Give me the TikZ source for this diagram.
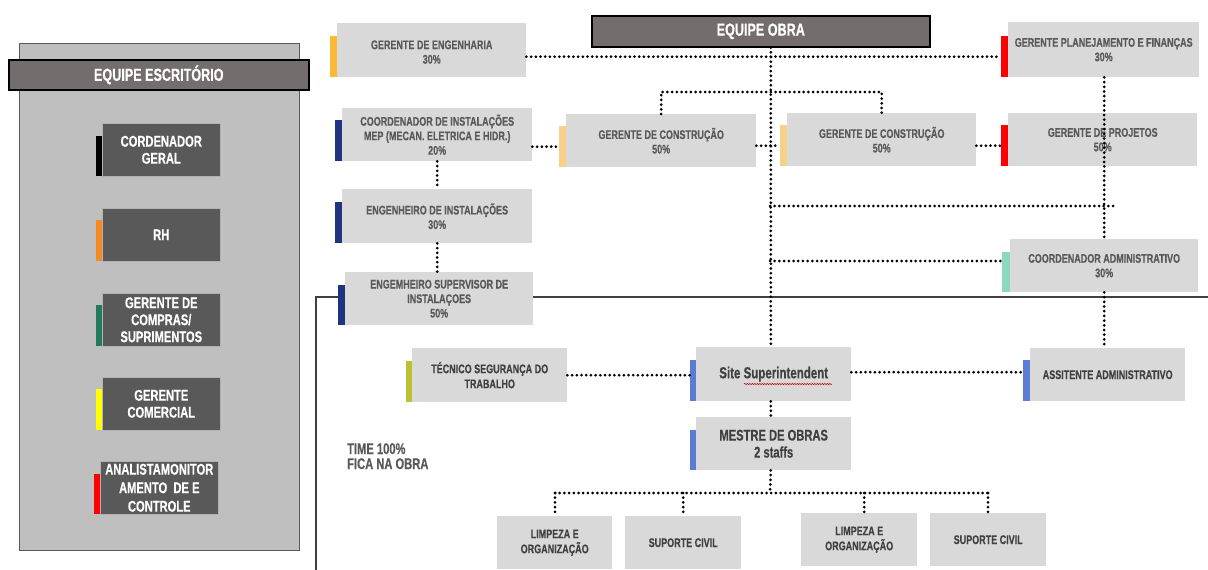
\documentclass[tikz,border=0pt]{standalone}
\usepackage{fontspec}
\setmainfont{Liberation Sans}[FakeStretch=0.72, BoldFeatures={FakeBold=0.4}]
\usetikzlibrary{decorations.pathmorphing}
\definecolor{hdr}{HTML}{736E6D}
\definecolor{panel}{HTML}{BFBFBF}
\definecolor{dbox}{HTML}{595959}
\definecolor{lbox}{HTML}{D9D9D9}
\definecolor{txt}{HTML}{595959}
\definecolor{txtd}{HTML}{404040}
\definecolor{cOrange}{HTML}{F38A24}
\definecolor{cTeal}{HTML}{217A5A}
\definecolor{cYellow}{HTML}{FFFF00}
\definecolor{cRed}{HTML}{FF0000}
\definecolor{cGold}{HTML}{FBBA34}
\definecolor{cNavy}{HTML}{1F3480}
\definecolor{cPeach}{HTML}{F7D08A}
\definecolor{cMint}{HTML}{8ED9BE}
\definecolor{cOlive}{HTML}{BBC232}
\definecolor{cBlue}{HTML}{5B7BD5}
\begin{document}
\begin{tikzpicture}[x=1pt,y=-1pt,
  hdrbox/.style={draw=black, line width=1.6pt, fill=hdr, text=white, font=\bfseries\fontsize{17.5}{19}\selectfont, anchor=north west, inner sep=0pt},
  dk/.style={fill=dbox, draw=gray!60, line width=0.6pt, text=white, font=\bfseries\fontsize{15.5}{17}\selectfont, align=center, anchor=north west, minimum width=118pt, minimum height=53pt, inner sep=0pt},
  lt/.style={fill=lbox, text=txt, font=\bfseries\fontsize{12.5}{14.5}\selectfont, align=center, anchor=north west, inner sep=0pt},
  sm/.style={lt, text=txtd, font=\bfseries\fontsize{12.5}{15}\selectfont},
  big/.style={lt, text=txtd, font=\bfseries\fontsize{16}{17}\selectfont},
  strip/.style={anchor=south east, minimum width=7pt, minimum height=41pt, inner sep=0pt},
  dots/.style={line width=3pt, dash pattern=on 0pt off 4.7pt, line cap=round, black},
  solidln/.style={line width=1.2pt, draw=txtd}
]
\useasboundingbox (0,0) rectangle (1208,570);

% ---------- left panel ----------
\draw[fill=panel, draw=dbox, line width=1pt] (19,43) rectangle (299,550);
\node[hdrbox, minimum width=300pt, minimum height=30pt] (esc) at (8,59) {EQUIPE ESCRITÓRIO};

\node[dk] (cg) at (102,123) {CORDENADOR\\GERAL};
\node[strip, minimum width=6pt, minimum height=40pt, fill=black] (cgS) at (cg.south west) {};
\node[dk] (rh) at (102,208) {RH};
\node[strip, minimum width=6pt, minimum height=41pt, fill=cOrange] (rhS) at (rh.south west) {};
\node[dk] (comp) at (102,293) {GERENTE DE\\COMPRAS/\\SUPRIMENTOS};
\node[strip, minimum width=6pt, minimum height=41pt, fill=cTeal] (compS) at (comp.south west) {};
\node[dk] (com) at (102,377) {GERENTE\\COMERCIAL};
\node[strip, minimum width=6pt, minimum height=41pt, fill=cYellow] (comS) at (com.south west) {};
\node[dk, font=\bfseries\fontsize{15.5}{18.5}\selectfont] (ana) at (100,461) {ANALISTAMONITOR\\AMENTO\ \ DE E\\CONTROLE};
\node[strip, minimum width=6pt, minimum height=40pt, fill=cRed] (anaS) at (ana.south west) {};

% ---------- solid frame line ----------
\coordinate (fa) at (316,570);
\coordinate (fb) at (316,297);
\coordinate (fc) at (1208,297);
\draw[solidln] (fa) -- (fb) -- (fc);

% ---------- right side ----------
\node[hdrbox, minimum width=338pt, minimum height=31pt] (obra) at (591,15) {EQUIPE OBRA};

\node[lt, minimum width=189pt, minimum height=54pt] (eng) at (337,23) {\\[-2pt]GERENTE DE ENGENHARIA\\30\%};
\node[strip, fill=cGold] (engS) at (eng.south west) {};
\node[lt, minimum width=190pt, minimum height=53pt] (mep) at (342,108) {COORDENADOR DE INSTALAÇÕES\\MEP (MECAN. ELETRICA E HIDR.)\\20\%};
\node[strip, fill=cNavy] (mepS) at (mep.south west) {};
\node[lt, minimum width=190pt, minimum height=53pt] (gc1) at (566,114) {GERENTE DE CONSTRUÇÃO\\50\%};
\node[strip, fill=cPeach] (gc1S) at (gc1.south west) {};
\node[lt, minimum width=189pt, minimum height=53pt] (gc2) at (787,113) {GERENTE DE CONSTRUÇÃO\\50\%};
\node[strip, fill=cPeach] (gc2S) at (gc2.south west) {};
\node[lt, minimum width=191pt, minimum height=55pt] (plan) at (1008,22) {GERENTE PLANEJAMENTO E FINANÇAS\\30\%};
\node[strip, fill=cRed] (planS) at (plan.south west) {};
\node[lt, minimum width=189pt, minimum height=53pt] (proj) at (1008,113) {GERENTE DE PROJETOS\\50\%};
\node[strip, fill=cRed] (projS) at (proj.south west) {};
\node[lt, minimum width=190pt, minimum height=54pt] (einst) at (342,189) {ENGENHEIRO DE INSTALAÇÕES\\30\%};
\node[strip, fill=cNavy] (einstS) at (einst.south west) {};
\node[lt, minimum width=188pt, minimum height=53pt] (esup) at (345,272) {ENGEMHEIRO SUPERVISOR DE\\INSTALAÇOES\\50\%};
\node[strip, fill=cNavy, minimum height=40pt] (esupS) at (esup.south west) {};
\node[lt, minimum width=188pt, minimum height=53pt] (cadm) at (1010,239) {COORDENADOR ADMINISTRATIVO\\30\%};
\node[strip, fill=cMint, minimum width=8pt, minimum height=40pt] (cadmS) at (cadm.south west) {};

\node[sm, minimum width=155pt, minimum height=54pt] (tec) at (412,348) {TÉCNICO SEGURANÇA DO\\TRABALHO};
\node[strip, fill=cOlive, minimum width=6pt] (tecS) at (tec.south west) {};
\node[big, minimum width=155pt, minimum height=54pt] (site) at (696,347) {Site Superintendent};
\node[strip, fill=cBlue, minimum width=6pt] (siteS) at (site.south west) {};
\node[sm, minimum width=155pt, minimum height=53pt] (ass) at (1030,348) {ASSITENTE ADMINISTRATIVO};
\node[strip, fill=cBlue, minimum width=7pt] (assS) at (ass.south west) {};
\node[big, font=\bfseries\fontsize{15.5}{17}\selectfont, minimum width=155pt, minimum height=53pt] (mest) at (696,417) {MESTRE DE OBRAS\\2 staffs};
\node[strip, fill=cBlue, minimum width=6pt, minimum height=40pt] (mestS) at (mest.south west) {};

\node[sm, minimum width=115pt, minimum height=53pt] (lim1) at (497,516) {LIMPEZA E\\ORGANIZAÇÃO};
\node[sm, minimum width=116pt, minimum height=53pt] (sup1) at (625,516) {SUPORTE CIVIL};
\node[sm, minimum width=116pt, minimum height=53pt] (lim2) at (801,513) {LIMPEZA E\\ORGANIZAÇÃO};
\node[sm, minimum width=116pt, minimum height=53pt] (sup2) at (930,513) {SUPORTE CIVIL};

\node[anchor=north west, align=left, text=txt, font=\bfseries\fontsize{15.5}{15}\selectfont, inner sep=0pt] (time) at (347,443) {TIME 100\%\\FICA NA OBRA};

% spell-check squiggle
\coordinate (sq1) at (744,384);
\coordinate (sq2) at (832,384);
\draw[red!80!black, line width=0.5pt, decorate, decoration={snake, amplitude=0.7pt, segment length=2.5pt}] (sq1) -- (sq2);

% ---------- dotted connectors ----------
\coordinate (spT) at ([xshift=10pt]obra.south);
\coordinate (j206) at (770,206);
\coordinate (j206e) at (1115,206);
\coordinate (j261) at (770,261);
\coordinate (bus) at (770,493);
\coordinate (busL) at (555,493);
\coordinate (busR) at (988,493);

\draw[dots] (spT) -- (spT |- site.north);
\draw[dots] (eng.east |- planS.west) -- (planS.west);
\draw[dots] (gc1.north) -- ++(0,-22) -| (gc2.north);
\draw[dots] (mep.east |- gc1S.west) -- (gc1S.west);
\draw[dots] (gc1.east |- gc2S.west) -- (gc2S.west);
\draw[dots] (gc2.east |- projS.west) -- (projS.west);
\draw[dots] (plan.south -| cadm.north) -- (proj.south -| cadm.north);
\draw[dots] (proj.south -| cadm.north) -- (cadm.north);
\draw[dots] (j206) -- (j206e);
\draw[dots] (j261) -- (j261 -| cadmS.west);
\draw[dots] (cadm.south) -- (cadm.south |- ass.north);
\draw[dots] (mep.south) -- (einst.north);
\draw[dots] (einst.south) -- (einst.south |- esup.north);
\draw[dots] (tec.east) -- (tec.east -| siteS.west);
\draw[dots] ([yshift=2pt]site.east) -- ([yshift=2pt]site.east -| assS.west);
\draw[dots] (spT |- site.south) -- (spT |- mest.north);
\draw[dots] (spT |- mest.south) -- (bus);
\draw[dots] (busL) -- (busR);
\draw[dots] (busL) -- (busL |- lim1.north);
\draw[dots] (busL -| sup1.north) -- (sup1.north);
\draw[dots] ([xshift=5pt]lim2.north |- busL) -- ([xshift=5pt]lim2.north);
\draw[dots] (busR) -- (busR |- sup2.north);
\end{tikzpicture}
\end{document}
